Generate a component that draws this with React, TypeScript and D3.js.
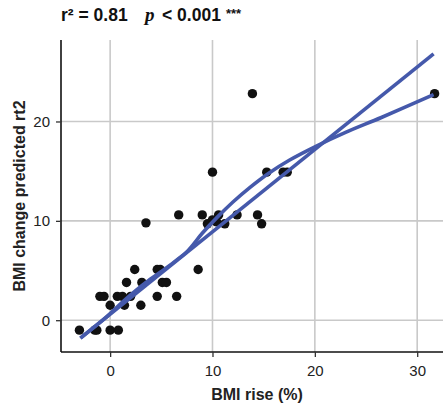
import React, { useEffect, useRef } from "react";
import * as d3 from "d3";

// observed points: BMI rise (%) vs predicted BMI change
const bmiRise = [
  -3.0, -1.5, -1.3, 0.0, 0.8, -1.0, -0.6, 0.7, 1.2, 2.0, 4.6, 6.5, 0.0, 1.4, 3.0,
  1.6, 3.1, 5.1, 5.5, 2.4, 4.6, 4.9, 8.6, 3.5, 9.5, 10.0, 10.4, 11.2, 14.8, 6.7,
  9.0, 10.6, 12.4, 14.4, 10.0, 15.3, 16.9, 17.3, 13.9, 31.7,
];
const bmiPredicted = [
  -1.0, -1.0, -1.0, -1.0, -1.0, 2.4, 2.4, 2.4, 2.4, 2.4, 2.4, 2.4, 1.5, 1.5, 1.5,
  3.8, 3.8, 3.8, 3.8, 5.1, 5.1, 5.1, 5.1, 9.8, 9.7, 10.1, 9.9, 9.7, 9.7, 10.6,
  10.6, 10.6, 10.6, 10.6, 14.9, 14.9, 14.9, 14.9, 22.8, 22.8,
];

// fitted lines
const linearX = [-2.9, 31.6];
const linearY = [-1.8, 26.8];
const smoothX = [-2.9, -0.5, 1.5, 3.5, 5.0, 6.3, 7.6, 9.0, 10.5, 12.0, 13.7, 15.5, 17.5, 20.2, 23.0, 26.5, 31.6];
const smoothY = [-1.8, 0.2, 2.1, 3.8, 4.9, 5.9, 7.0, 8.75, 10.4, 11.9, 13.4, 14.8, 16.1, 17.55, 18.9, 20.4, 22.7];

const xTicks = [0, 10, 20, 30];
const yTicks = [0, 10, 20];

export default function App() {
  const ref = useRef<SVGSVGElement>(null);

  useEffect(() => {
    const svg = d3.select(ref.current);
    svg.selectAll("*").remove();
    const width = 443;
    const height = 406;
    const left = 61, right = 452, top = 40, bottom = 352;
    const font = "'Liberation Sans', Arial, sans-serif";
    const blue = "#4559ab";

    const x = d3.scaleLinear().domain([-4.8, 33.4]).range([left, right]);
    const y = d3.scaleLinear().domain([-3.2, 28.2]).range([bottom, top]);

    svg.attr("width", width).attr("height", height);
    svg.append("rect").attr("width", width).attr("height", height).attr("fill", "#fff");

    // grid
    const grid = svg.append("g").attr("stroke", "#c9c9c9").attr("stroke-width", 1.6);
    grid.selectAll(".gx").data(xTicks).enter().append("line")
      .attr("x1", d => x(d)).attr("x2", d => x(d))
      .attr("y1", top).attr("y2", bottom);
    grid.selectAll(".gy").data(yTicks).enter().append("line")
      .attr("x1", left).attr("x2", right)
      .attr("y1", d => y(d)).attr("y2", d => y(d));

    // axes
    const ax = svg.append("g")
      .attr("transform", "translate(0," + bottom + ")")
      .call(d3.axisBottom(x).tickValues(xTicks).tickSize(5).tickPadding(8).tickSizeOuter(0));
    const ay = svg.append("g")
      .attr("transform", "translate(" + left + ",0)")
      .call(d3.axisLeft(y).tickValues(yTicks).tickSize(5).tickPadding(6).tickSizeOuter(0));
    [ax, ay].forEach(g => {
      g.select(".domain").attr("stroke", "#111").attr("stroke-width", 1.6);
      g.selectAll(".tick line").attr("stroke", "#333").attr("stroke-width", 1.3);
      g.selectAll("text").attr("font-family", font).attr("font-size", 15).attr("fill", "#222");
    });
    ax.select(".domain").attr("d", "M" + left + ",0H" + right);
    ay.select(".domain").attr("d", "M0," + top + "V" + bottom);

    // points
    svg.append("g").selectAll("circle")
      .data(bmiRise.map((v, i) => [v, bmiPredicted[i]]))
      .enter().append("circle")
      .attr("cx", d => x(d[0])).attr("cy", d => y(d[1]))
      .attr("r", 4.7).attr("fill", "#111");

    // fit lines
    const line = d3.line<number[]>().x(d => x(d[0])).y(d => y(d[1]));
    svg.append("path")
      .attr("d", line(linearX.map((v, i) => [v, linearY[i]])))
      .attr("fill", "none").attr("stroke", blue).attr("stroke-width", 3.6);
    svg.append("path")
      .attr("d", line.curve(d3.curveCatmullRom)(smoothX.map((v, i) => [v, smoothY[i]])))
      .attr("fill", "none").attr("stroke", blue).attr("stroke-width", 3.6);

    // titles
    svg.append("text")
      .attr("x", 257).attr("y", 400)
      .attr("text-anchor", "middle")
      .attr("font-family", font).attr("font-size", 16).attr("font-weight", "bold")
      .attr("fill", "#222")
      .text("BMI rise (%)");
    svg.append("text")
      .attr("transform", "translate(25,196) rotate(-90)")
      .attr("text-anchor", "middle")
      .attr("font-family", font).attr("font-size", 16).attr("font-weight", "bold")
      .attr("fill", "#222")
      .text("BMI change predicted rt2");

    const title = svg.append("text")
      .attr("y", 21)
      .attr("font-family", font).attr("font-size", 17.5).attr("font-weight", "bold")
      .attr("fill", "#111");
    title.append("tspan").attr("x", 61).text("r² = 0.81");
    title.append("tspan").attr("x", 145)
      .attr("font-family", "'Liberation Serif', 'DejaVu Serif', serif")
      .attr("font-style", "italic").attr("font-size", 19).text("p");
    title.append("tspan").attr("x", 162).text("< 0.001");
    title.append("tspan").attr("dx", 5).attr("font-size", 13).attr("dy", -3).text("***");
  }, []);

  return <svg ref={ref} style={{ display: "block", position: "absolute", left: 0, top: 0 }} />;
}
